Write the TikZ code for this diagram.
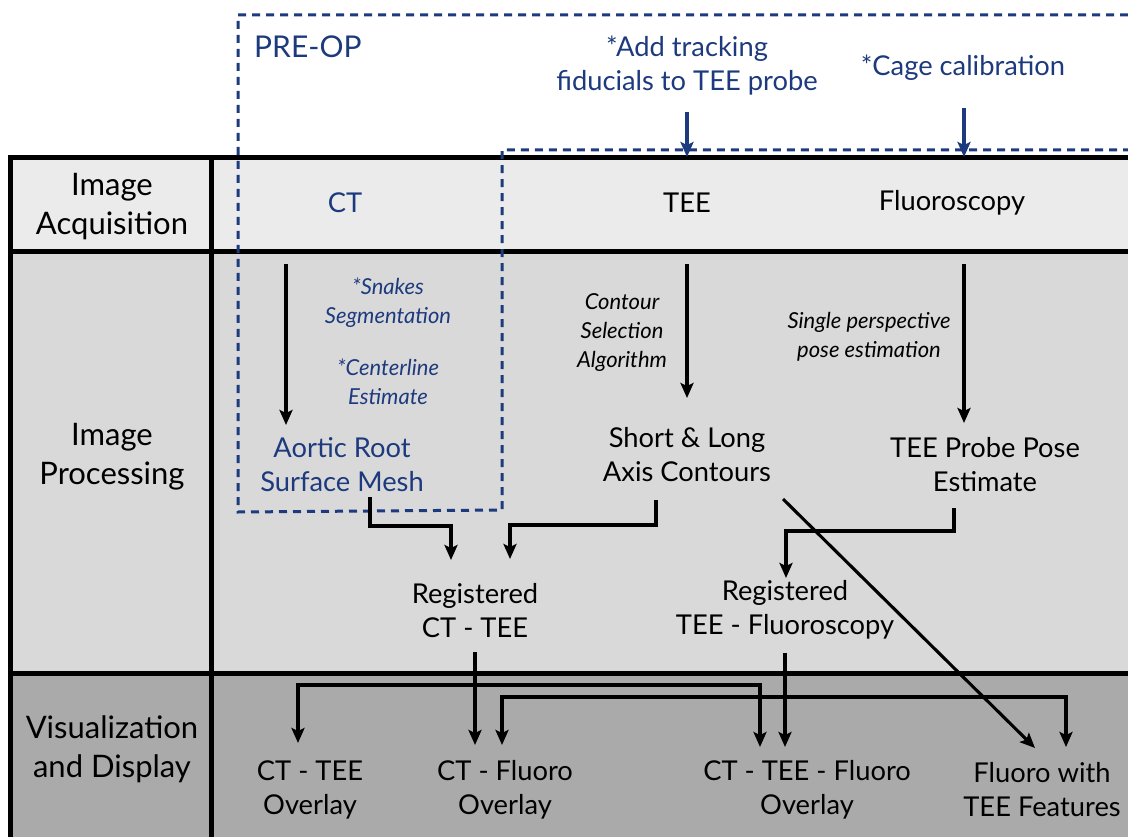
\documentclass[tikz,border=0pt]{standalone}
\usepackage{fontspec}
\setmainfont{Lato}
\usetikzlibrary{arrows.meta,calc}
\definecolor{navy}{RGB}{28,58,125}
\definecolor{rowA}{RGB}{235,235,235}
\definecolor{rowB}{RGB}{217,217,217}
\definecolor{rowC}{RGB}{170,170,170}

\begin{document}
\begin{tikzpicture}[x=1pt,y=-1pt,
  txt/.style={inner sep=0pt, align=center, font=\fontsize{27.3}{34}\selectfont},
  hdr/.style={inner sep=0pt, align=center, font=\fontsize{31}{39}\selectfont},
  note/.style={inner sep=0pt, align=center, font=\fontsize{22}{29}\selectfont\itshape},
  bluetext/.style={text=navy},
  rule/.style={line width=5pt},
  arr/.style={line width=3.1pt, -{Stealth[length=15pt,width=13pt,inset=3pt]}},
  barr/.style={arr, draw=navy, fill=navy},
  zone/.style={draw=navy, line width=3pt, dash pattern=on 8pt off 6pt}
]
\useasboundingbox (0,0) rectangle (1128,837);

% table rows
\fill[rowA] (10,158) rectangle (1128,252);
\fill[rowB] (10,252) rectangle (1128,673);
\fill[rowC] (10,673) rectangle (1128,837);
\draw[rule] (1128,158) -- (10,158) -- (10,837);
\draw[rule] (10,252) -- (1128,252);
\draw[rule] (10,673) -- (1128,673);
\draw[rule] (211,158) -- (211,837);

% pre-operative zone
\draw[zone] (1128,15) -- (238,15) -- (238,512) -- (502,510) -- (502,150) -- (1128,150);

% helper levels
\coordinate (tabtop) at (0,157);
\coordinate (r2top) at (0,264);

% texts
\node[txt,bluetext,anchor=west,font=\fontsize{30}{36}\selectfont] (preop) at (254,47) {PRE-OP};
\node[txt,bluetext] (fid) at (687,66) {*Add tracking\\fiducials to TEE probe};
\node[txt,bluetext] (cage) at (963,68) {*Cage calibration};
\node[hdr] (hacq) at (112,207) {Image\\Acquisition};
\node[txt,bluetext] (ct) at (345,203) {CT};
\node[txt] (tee) at (687,203) {TEE};
\node[txt] (fluo) at (952,203) {Fluoroscopy};
\node[hdr] (hproc) at (112,457) {Image\\Processing};
\node[note,bluetext] (snk) at (388,303) {*Snakes\\Segmentation};
\node[note,bluetext] (cln) at (388,382) {*Centerline\\Estimate};
\node[txt,bluetext] (aor) at (342,465) {Aortic Root\\Surface Mesh};
\node[note] (csa) at (622,333) {Contour\\Selection\\Algorithm};
\node[note] (spe) at (869,337) {Single perspective\\pose estimation};
\node[txt] (sla) at (687,455) {Short \& Long\\Axis Contours};
\node[txt] (tpp) at (985,465) {TEE Probe Pose\\Estimate};
\node[txt] (rct) at (475,611) {Registered\\CT - TEE};
\node[txt] (rtf) at (785,610) {Registered\\TEE - Fluoroscopy};
\node[hdr] (hvis) at (112,749) {Visualization\\and Display};
\node[txt] (ov1) at (310,790) {CT - TEE\\Overlay};
\node[txt] (ov2) at (505,790) {CT - Fluoro\\Overlay};
\node[txt] (ov3) at (807,790) {CT - TEE - Fluoro\\Overlay};
\node[txt] (ov4) at (1042,790) {Fluoro with\\TEE Features};

% pre-op inputs
\draw[barr] ($(fid.center)+(0,46)$) -- (fid.center |- tabtop);
\draw[barr] ($(cage.center)+(1,40)$) -- ($(cage.center |- tabtop)+(1,0)$);

% acquisition to processing
\coordinate (aorIn) at ($(aor.center)+(-56,-40)$);
\draw[arr] (aorIn |- r2top) -- (aorIn);
\draw[arr] (sla.center |- r2top) -- ($(sla.center)+(0,-57)$);
\coordinate (tppIn) at ($(tpp.center)+(-21,-42)$);
\draw[arr] (tppIn |- r2top) -- (tppIn);

% registrations
\draw[arr] ($(aor.center)+(28,32)$) |- ($(rct.center)+(-24,-85)$) -- ($(rct.center)+(-24,-51)$);
\draw[arr] ($(sla.center)+(-31,45)$) |- ($(rct.center)+(35,-86)$) -- ($(rct.center)+(35,-52)$);
\draw[arr] ($(tpp.center)+(-31,43)$) |- ($(rtf.center)+(1,-79)$) -- ($(rtf.center)+(1,-32)$);
\draw[arr] ($(sla.center)+(96,44)$) -- ($(ov4.center)+(-7,-42)$);

% visualization outputs
\draw[arr] ($(rct.center)+(0,41)$) -- ($(rct.center)+(0,134)$);
\coordinate (j1) at ($(rct.center)+(0,74)$);
\draw[arr] (j1) -| ($(ov1.center)+(-12,-47)$);
\draw[arr] (j1) -| ($(ov3.center)+(-47,-43)$);
\draw[arr] ($(rtf.center)+(0,43)$) -- ($(rtf.center)+(0,137)$);
\coordinate (j2) at ($(rtf.center)+(0,87)$);
\draw[arr] (j2) -| ($(ov2.center)+(-3,-45)$);
\draw[arr] (j2) -| ($(ov4.center)+(24,-43)$);
\end{tikzpicture}
\end{document}
